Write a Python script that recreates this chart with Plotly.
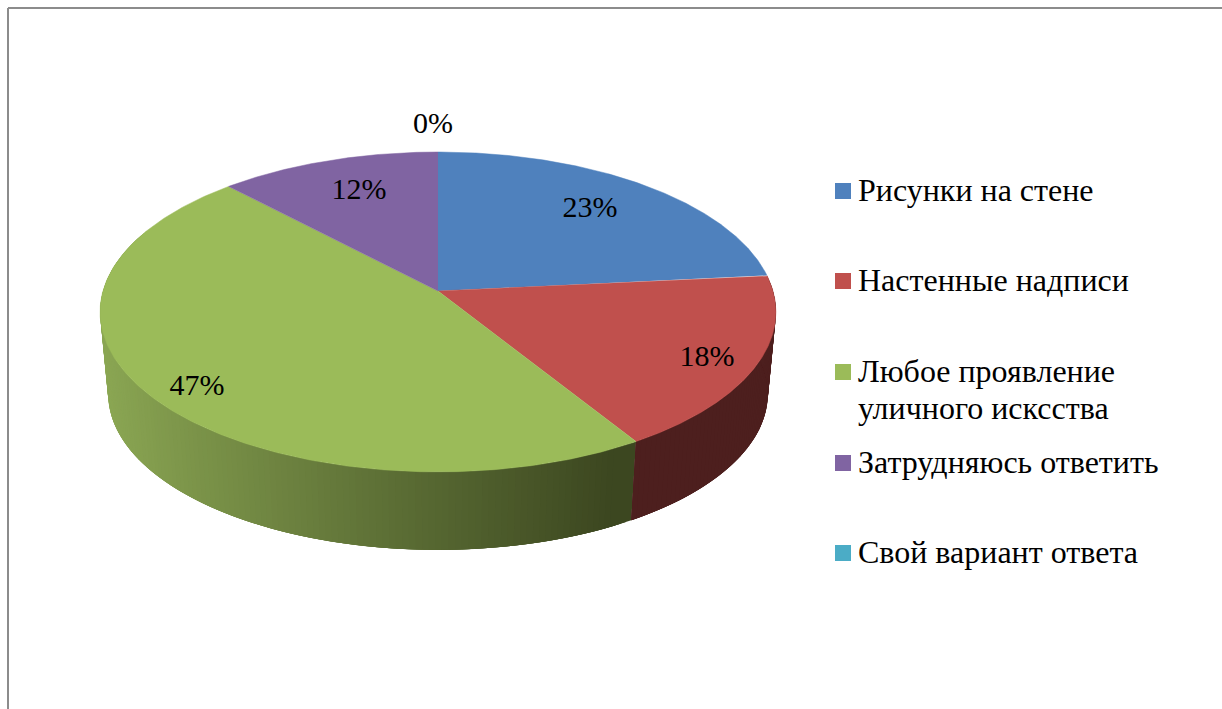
import numpy as np
import plotly.graph_objects as go

# Data
categories = ["Рисунки на стене", "Настенные надписи",
              "Любое проявление\nуличного исксства",
              "Затрудняюсь ответить", "Свой вариант ответа"]
values = [23.4, 17.8, 46.8, 12.0, 0.0]

# Styles and layout
top_colors = ["#4F81BD", "#C0504D", "#9BBB59", "#8064A2", "#4BACC6"]
legend_colors = top_colors
wall_left = {1: (77, 31, 30), 2: (140, 168, 84)}
wall_right = {1: (77, 31, 30), 2: (60, 71, 32)}
label_pos = [(590, 209.5), (707, 358.5), (197, 387.5), (359, 191.5), (433, 125.5)]
legend_rows = [191, 281, 372, 463, 553]
FONT = "Liberation Serif"
W, H = 1222, 709
K = 0.131
TOP = dict(cx=438.0, cy=291.0, A=335.0, B=157.2)
BOT = dict(cx=438.0, cy=373.5, A=327.0, B=153.3)


def project(theta, g):
    """Perspective image of a circle; theta runs clockwise from the top."""
    u, v = np.sin(theta), np.cos(theta)
    d = 1 + K * v
    return g["cx"] + g["A"] * u / d, g["cy"] - g["B"] * v / d


fractions = np.array(values) / sum(values)
edges = np.concatenate([[0.0], np.cumsum(fractions)]) * 2 * np.pi

fig = go.Figure()

# Outer walls (front half only). Each strip overlaps the next one so no seams show.
for i in (2, 1):
    start, end = edges[i], edges[i + 1]
    step = np.radians(1.0)
    n = max(2, int((end - start) / step))
    ts = np.linspace(start, end, n + 1)
    for a, b in zip(ts[:-1][::-1], ts[1:][::-1]):
        if np.cos((a + b) / 2) > 0.35:
            continue
        arc = np.linspace(a, min(b + 3 * step, end), 5)
        x1, y1 = project(arc, TOP)
        x2, y2 = project(arc[::-1], BOT)
        xm = (project(a, TOP)[0] + project(a, BOT)[0]) / 2
        t = float(np.clip((xm - 100) / 530, 0, 1))
        c0, c1 = wall_left[i], wall_right[i]
        col = "rgb(%d,%d,%d)" % tuple(round(p + (q - p) * t) for p, q in zip(c0, c1))
        fig.add_trace(go.Scatter(
            x=np.concatenate([x1, x2]), y=np.concatenate([y1, y2]),
            mode="lines", fill="toself", fillcolor=col,
            line=dict(width=0), hoverinfo="skip", showlegend=False))

# Top faces
for i, (start, end) in enumerate(zip(edges[:-1], edges[1:])):
    if end - start <= 0:
        continue
    ts = np.linspace(start, end, 240)
    x, y = project(ts, TOP)
    fig.add_trace(go.Scatter(
        x=np.concatenate([[TOP["cx"]], x]), y=np.concatenate([[TOP["cy"]], y]),
        mode="lines", fill="toself", fillcolor=top_colors[i],
        line=dict(color=top_colors[i], width=0.5), hoverinfo="skip", showlegend=False))

# Percentage labels
fig.add_trace(go.Scatter(
    x=[p[0] for p in label_pos], y=[p[1] for p in label_pos],
    text=[f"{round(v)}%" for v in values], mode="text", textposition="middle center",
    textfont=dict(family=FONT, size=30, color="black"),
    hoverinfo="skip", showlegend=False))

# Legend keys
fig.add_trace(go.Scatter(
    x=[843] * len(legend_rows), y=legend_rows, mode="markers",
    marker=dict(symbol="square", size=16, color=legend_colors, line=dict(width=0)),
    hoverinfo="skip", showlegend=False))

# Legend labels (second line of a wrapped label sits 37 px lower)
annotations = []
for name, row in zip(categories, legend_rows):
    for j, line in enumerate(name.split("\n")):
        annotations.append(dict(
            x=859, y=row + 37 * j - 1, xref="x", yref="y", text=line, showarrow=False,
            xanchor="left", yanchor="middle", align="left", xshift=-3,
            font=dict(family=FONT, size=32, color="black")))

# Chart-area frame (top and left edges)
frame = [
    dict(type="line", xref="x", yref="y", x0=8, x1=1222, y0=8, y1=8,
         line=dict(color="#8C8C8C", width=2)),
    dict(type="line", xref="x", yref="y", x0=8, x1=8, y0=8, y1=709,
         line=dict(color="#8C8C8C", width=2)),
]

fig.update_layout(
    width=W, height=H, margin=dict(l=0, r=0, t=0, b=0),
    paper_bgcolor="white", plot_bgcolor="white", showlegend=False,
    xaxis=dict(range=[0, W], visible=False, fixedrange=True),
    yaxis=dict(range=[H, 0], visible=False, fixedrange=True),
    annotations=annotations, shapes=frame)
fig.write_html("out.html", config={"displayModeBar": False},
               post_script="document.body.style.margin='0';document.body.style.overflow='hidden';")
